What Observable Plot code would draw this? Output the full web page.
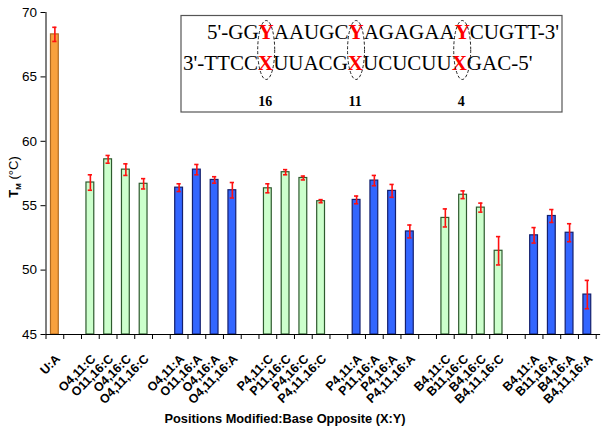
<!DOCTYPE html>
<html>
<head>
<meta charset="utf-8">
<script src="https://cdn.jsdelivr.net/npm/d3@7"></script>
<script src="https://cdn.jsdelivr.net/npm/@observablehq/plot@0.6"></script>
<style>
  html, body { margin: 0; padding: 0; background: #fff; }
  #chart { width: 604px; height: 431px; }
</style>
</head>
<body>
<div id="chart"></div>
<script>
// Categories in slot order; "" marks an empty spacer slot between groups
const categories = ["U:A", "",
  "O4,11:C", "O11,16:C", "O4,16:C", "O4,11,16:C", "",
  "O4,11:A", "O11,16:A", "O4,16:A", "O4,11,16:A", "",
  "P4,11:C", "P11,16:C", "P4,16:C", "P4,11,16:C", "",
  "P4,11:A", "P11,16:A", "P4,16:A", "P4,11,16:A", "",
  "B4,11:C", "B11,16:C", "B4,16:C", "B4,11,16:C", "",
  "B4,11:A", "B11,16:A", "B4,16:A", "B4,11,16:A"];
// Tm values (°C) and error (±) for each non-empty category, in order
const tmValues = [68.3,
  56.8, 58.6, 57.8, 56.7,
  56.4, 57.8, 57.0, 56.2,
  56.35, 57.6, 57.15, 55.35,
  55.45, 56.95, 56.15, 53.0,
  54.05, 55.85, 54.85, 51.5,
  52.7, 54.2, 52.9, 48.1];
const tmErrors = [0.55,
  0.6, 0.3, 0.45, 0.4,
  0.3, 0.4, 0.25, 0.6,
  0.35, 0.2, 0.15, 0.12,
  0.3, 0.4, 0.5, 0.5,
  0.7, 0.3, 0.35, 1.1,
  0.6, 0.5, 0.7, 1.1];
const yTicks = [45, 50, 55, 60, 65, 70];
const seqTop = ["5'-GG", "Y", "AAUGC", "Y", "AGAGAA", "Y", "CUGTT-3'"];
const seqBottom = ["3'-TTCC", "X", "UUACG", "X", "UCUCUU", "X", "GAC-5'"];
const positions = ["16", "11", "4"];

// Build table
const rows = [];
let k = 0;
categories.forEach((c, i) => {
  if (c === "") return;
  const kind = c === "U:A" ? "control" : (c.endsWith(":C") ? "C" : "A");
  rows.push({label: c, slot: i, tm: tmValues[k], err: tmErrors[k], kind});
  k++;
});

const fillColor = {control: "#F8A13E", C: "#CCFFCC", A: "#3366FF"};
const strokeColor = {control: "#B06A20", C: "#2E5A2E", A: "#14206E"};
const nSlots = categories.length;

const plot = Plot.plot({
  width: 604,
  height: 431,
  marginLeft: 45.5,
  marginRight: 8.3,
  marginTop: 12,
  marginBottom: 97,
  style: {fontFamily: "'Liberation Sans', Arial, sans-serif", background: "#fff"},
  x: {type: "linear", domain: [0, nSlots], axis: null},
  y: {domain: [45, 70], axis: null},
  marks: [
    Plot.rectY(rows, {
      x1: d => d.slot + 0.28, x2: d => d.slot + 0.72,
      y1: 45, y2: "tm",
      fill: d => fillColor[d.kind], stroke: d => strokeColor[d.kind], strokeWidth: 1.2
    }),
    // error bars
    Plot.ruleX(rows, {x: d => d.slot + 0.5, y1: d => d.tm - d.err, y2: d => d.tm + d.err, stroke: "#FF1010", strokeWidth: 1.6}),
    Plot.ruleY(rows, {y: d => d.tm + d.err, x1: d => d.slot + 0.38, x2: d => d.slot + 0.62, stroke: "#FF1010", strokeWidth: 1.6}),
    Plot.ruleY(rows, {y: d => d.tm - d.err, x1: d => d.slot + 0.38, x2: d => d.slot + 0.62, stroke: "#FF1010", strokeWidth: 1.6}),
    // axes
    Plot.axisY({ticks: yTicks, tickSize: 5, tickPadding: 4, fontSize: 13.5, label: null, tickFormat: d => d}),
    Plot.axisX({ticks: d3.range(nSlots + 1), tickSize: 5, tickFormat: () => "", label: null}),
    Plot.ruleX([0], {y1: 45, y2: 70, stroke: "#000"}),
    Plot.ruleY([45], {x1: 0, x2: nSlots + 0.25, stroke: "#000"}),
    // tick labels
    Plot.text(rows, {
      x: d => d.slot + 0.5, y: 45, text: "label",
      rotate: -45, textAnchor: "end", lineAnchor: "bottom",
      dx: 6, dy: 25, fontSize: 12.5, fontWeight: "bold", fill: "#000"
    })
  ]
});

document.getElementById("chart").appendChild(plot);
const svg = d3.select(plot);

// Axis titles
svg.append("text")
  .attr("x", 285).attr("y", 423)
  .attr("text-anchor", "middle")
  .attr("font-family", "'Liberation Sans', Arial, sans-serif")
  .attr("font-size", 12.8).attr("font-weight", "bold")
  .text("Positions Modified:Base Opposite (X:Y)");

const yl = svg.append("text")
  .attr("transform", "translate(18,177) rotate(-90)")
  .attr("text-anchor", "middle")
  .attr("font-family", "'Liberation Sans', Arial, sans-serif")
  .attr("font-size", 13).attr("font-weight", "bold");
yl.append("tspan").text("T");
yl.append("tspan").attr("font-size", 8).attr("dy", 3).text("M");
yl.append("tspan").attr("dy", -3).attr("font-weight", "normal").text(" (°C)");

// Inset with sequence
const inset = svg.append("g").attr("text-anchor", "start");
inset.append("rect")
  .attr("x", 181).attr("y", 15.5).attr("width", 381).attr("height", 96.5)
  .attr("fill", "#fff").attr("stroke", "#555").attr("stroke-width", 1.2);

function seqLine(parts, x, y) {
  const t = inset.append("text")
    .attr("x", x).attr("y", y)
    .attr("text-anchor", "start")
    .attr("font-family", "'Liberation Serif', 'Times New Roman', serif")
    .attr("font-size", 21).attr("fill", "#000");
  parts.forEach((p, i) => {
    const s = t.append("tspan").text(p);
    if (i % 2 === 1) s.attr("fill", "#FF0000").attr("font-weight", "bold");
  });
  return t;
}
const t1 = seqLine(seqTop, 207, 39);
const t2 = seqLine(seqBottom, 183, 70);

// find centres of the modified letters in the top line
const centers = [];
let charIdx = 0;
const node = t1.node();
seqTop.forEach((p, i) => {
  if (i % 2 === 1) {
    const ext = node.getExtentOfChar(charIdx);
    centers.push(ext.x + ext.width / 2);
  }
  charIdx += p.length;
});
centers.forEach((cx, i) => {
  inset.append("ellipse")
    .attr("cx", cx).attr("cy", 50).attr("rx", 8.5).attr("ry", 29.5)
    .attr("fill", "none").attr("stroke", "#222").attr("stroke-width", 1)
    .attr("stroke-dasharray", "3,2");
  inset.append("text")
    .attr("x", cx - 1).attr("y", 106)
    .attr("text-anchor", "middle")
    .attr("font-family", "'Liberation Serif', 'Times New Roman', serif")
    .attr("font-size", 14).attr("font-weight", "bold")
    .text(positions[i]);
});
</script>
</body>
</html>
